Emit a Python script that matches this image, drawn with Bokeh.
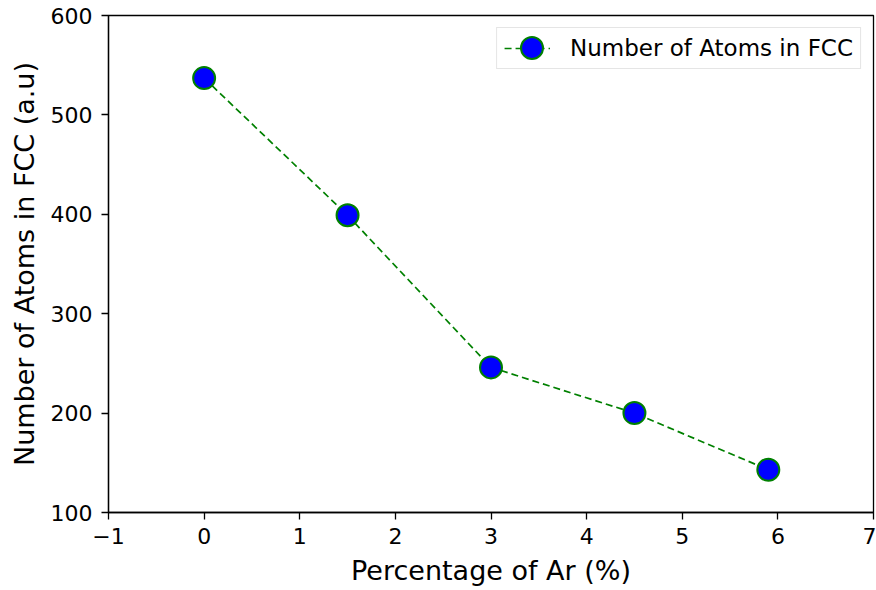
from bokeh.plotting import figure
from bokeh.models import ColumnDataSource, Range1d, FixedTicker, Legend, LegendItem
from bokeh.embed import file_html
from bokeh.resources import INLINE

# Argon percentage vs. number of FCC atoms
ar_percent = [0.0, 1.5, 3.0, 4.5, 5.9]
fcc_atoms = [537, 399, 246, 200, 143]

x_ticks = [-1, 0, 1, 2, 3, 4, 5, 6, 7]
y_ticks = [100, 200, 300, 400, 500, 600]

FONT = "DejaVu Sans"
LINE_GREEN = "#008000"
MARKER_BLUE = "#0000ff"

src = ColumnDataSource(data=dict(x=ar_percent, y=fcc_atoms))

p = figure(
    width=876, height=590,
    output_backend="svg", toolbar_location=None,
    x_range=Range1d(-1, 7), y_range=Range1d(100, 600),
    min_border_left=108, min_border_right=3,
    min_border_top=15, min_border_bottom=78,
)
p.background_fill_color = "white"
p.border_fill_color = "white"
p.outline_line_color = "black"
p.outline_line_width = 1.3
p.grid.visible = False

line = p.line("x", "y", source=src, line_color=LINE_GREEN, line_width=1.7,
              line_dash="7 4")
pts = p.scatter("x", "y", source=src, size=22, marker="circle",
                fill_color=MARKER_BLUE, line_color=LINE_GREEN, line_width=2)

for ax in (p.xaxis[0], p.yaxis[0]):
    ax.axis_line_color = "black"
    ax.axis_line_width = 1.3
    ax.major_tick_in = 0
    ax.major_tick_out = 7
    ax.major_tick_line_width = 1.3
    ax.minor_tick_line_color = None
    ax.major_label_text_font = FONT
    ax.major_label_text_font_size = "22px"
    ax.major_label_text_color = "black"
    ax.axis_label_text_font = FONT
    ax.axis_label_text_font_size = "27px"
    ax.axis_label_text_font_style = "normal"
    ax.axis_label_text_color = "black"

p.xaxis[0].ticker = FixedTicker(ticks=x_ticks)
p.yaxis[0].ticker = FixedTicker(ticks=y_ticks)
p.xaxis[0].major_label_overrides = {-1: "\u22121"}
p.xaxis[0].axis_label = "Percentage of Ar (%)"
p.yaxis[0].axis_label = "Number of Atoms in FCC (a.u)"
p.xaxis[0].major_label_standoff = 8
p.yaxis[0].major_label_standoff = 9
p.xaxis[0].axis_label_standoff = 8
p.yaxis[0].axis_label_standoff = 8

# Legend box: dashed line handle and label
legend = Legend(
    items=[LegendItem(label="Number of Atoms in FCC", renderers=[line])],
    location="top_right",
    label_text_font=FONT,
    label_text_font_size="23px",
    label_text_color="black",
    label_standoff=20,
    glyph_width=46,
    glyph_height=24,
    padding=7,
    margin=12,
    spacing=0,
    border_line_color="#cccccc",
    border_line_width=1.3,
    background_fill_alpha=0.8,
)
p.add_layout(legend)

# Full-size marker drawn over the legend's line handle
marker_legend = Legend(
    items=[LegendItem(label=" ", renderers=[pts])],
    location=(396, 437),
    glyph_width=55,
    glyph_height=55,
    padding=0,
    margin=0,
    spacing=0,
    label_standoff=0,
    label_text_font_size="1px",
    border_line_color=None,
    background_fill_color=None,
    background_fill_alpha=0,
)
p.add_layout(marker_legend)

open("out.html", "w").write(file_html(p, INLINE))
